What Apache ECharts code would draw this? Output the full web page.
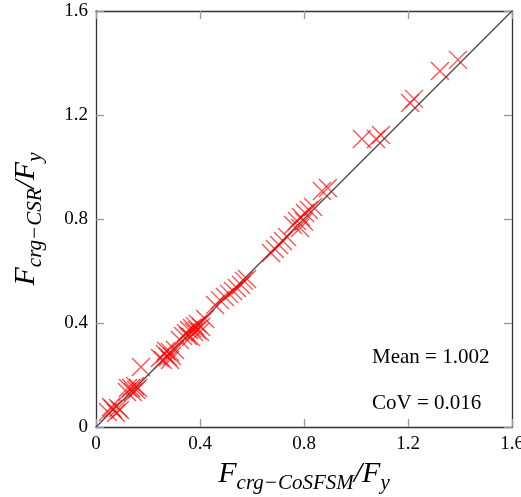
<!DOCTYPE html>
<html>
<head>
<meta charset="utf-8">
<script src="https://cdn.jsdelivr.net/npm/echarts@6/dist/echarts.min.js"></script>
<style>html,body{margin:0;padding:0;background:#fff;}#c{width:521px;height:497px;}</style>
</head>
<body>
<div id="c"></div>
<script>
const tickLabels = ['0', '0.4', '0.8', '1.2', '1.6'];
const xVals = [0.046,0.065,0.085,0.092,0.077,0.058,
  0.119,0.135,0.150,0.162,0.142,0.123,0.155,
  0.173,
  0.246,0.265,0.285,0.277,0.304,0.258,0.292,0.270,0.285,
  0.323,0.335,0.346,0.358,0.369,0.381,0.392,0.404,0.377,0.354,0.388,0.365,0.400,0.420,
  0.458,0.477,0.496,0.512,0.527,0.542,0.558,0.569,0.581,
  0.673,0.688,0.704,0.719,0.735,
  0.758,0.773,0.788,0.804,0.819,0.835,0.785,0.800,
  0.869,0.892,
  1.023,1.077,1.096,1.208,1.223,1.323,1.392];
const yVals = [0.058,0.069,0.073,0.065,0.054,0.077,
  0.135,0.150,0.158,0.150,0.135,0.150,0.142,
  0.231,
  0.265,0.281,0.288,0.269,0.296,0.258,0.273,0.292,0.258,
  0.335,0.350,0.362,0.373,0.381,0.388,0.396,0.385,0.365,0.350,0.373,0.346,0.365,0.415,
  0.469,0.488,0.500,0.512,0.523,0.535,0.546,0.562,0.569,
  0.669,0.685,0.700,0.715,0.731,
  0.777,0.792,0.808,0.823,0.835,0.846,0.765,0.790,
  0.908,0.919,
  1.108,1.108,1.123,1.246,1.262,1.369,1.412];
const refLine = [[0, 0], [1.6, 1.6]];
const meanText = 'Mean = 1.002';
const covText = 'CoV = 0.016';

const points = xVals.map((x, i) => [x, yVals[i]]);
const serif = 'Liberation Serif';
const fmt = v => { const s = String(Math.round(v * 10) / 10); return tickLabels.includes(s) ? s : s; };

const baseAxis = {
  type: 'value', min: 0, max: 1.6, interval: 0.4,
  axisLine: { show: true, onZero: false, lineStyle: { color: '#333', width: 1.3 } },
  axisTick: { show: true, inside: true, length: 8, lineStyle: { color: '#999', width: 1.3 } },
  splitLine: { show: false }
};
const nameRich = {
  F: { fontFamily: serif, fontStyle: 'italic', fontSize: 30, color: '#000', verticalAlign: 'bottom', lineHeight: 34, padding: [0, 0, 5, 0] },
  s: { fontFamily: serif, fontStyle: 'italic', fontSize: 21, color: '#000', verticalAlign: 'bottom', lineHeight: 24 }
};

const chart = echarts.init(document.getElementById('c'), null, { renderer: 'canvas' });
chart.setOption({
  animation: false,
  backgroundColor: '#fff',
  grid: { left: 96, top: 11, right: 9, bottom: 70, containLabel: false, outerBoundsMode: 'none' },
  xAxis: [
    Object.assign({}, baseAxis, {
      position: 'bottom',
      axisLabel: { show: true, margin: 8, fontFamily: serif, fontSize: 19, color: '#000', formatter: fmt, showMaxLabel: true },
      name: '{F|F}{s|crg−CoSFSM}{F|/F}{s|y}',
      nameLocation: 'middle', nameGap: 33,
      nameTextStyle: { rich: nameRich }
    }),
    Object.assign({}, baseAxis, { position: 'top', axisLabel: { show: false } })
  ],
  yAxis: [
    Object.assign({}, baseAxis, {
      position: 'left',
      axisLabel: { show: true, margin: 8, fontFamily: serif, fontSize: 19, color: '#000', formatter: fmt },
      name: '{F|F}{s|crg−CSR}{F|/F}{s|y}',
      nameLocation: 'middle', nameGap: 50,
      nameTextStyle: { rich: nameRich }
    }),
    Object.assign({}, baseAxis, { position: 'right', axisLabel: { show: false } })
  ],
  series: [
    {
      type: 'line', data: refLine, symbol: 'none', silent: true, z: 1,
      lineStyle: { color: '#444', width: 1.2 }
    },
    {
      type: 'scatter', data: points, z: 3,
      symbol: 'path://M0,0L10,10M10,0L0,10', symbolSize: 18,
      itemStyle: { color: 'none', borderColor: 'rgba(255,0,0,0.85)', borderWidth: 1.4 }
    }
  ],
  graphic: [
    { type: 'text', left: 372, top: 347, style: { text: meanText, fontFamily: serif, fontSize: 21, fill: '#000' } },
    { type: 'text', left: 372, top: 393, style: { text: covText, fontFamily: serif, fontSize: 21, fill: '#000' } }
  ]
});
</script>
</body>
</html>
